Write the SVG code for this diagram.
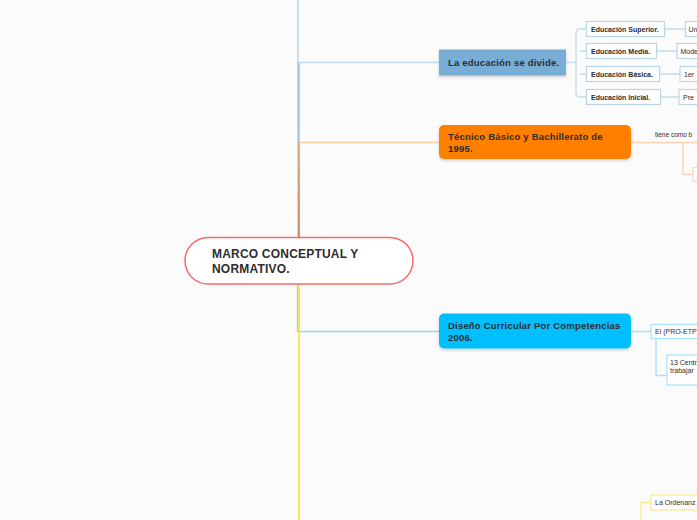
<svg xmlns="http://www.w3.org/2000/svg" width="697" height="520" viewBox="0 0 697 520">
<defs>
<linearGradient id="gOrange" gradientUnits="userSpaceOnUse" x1="0" y1="237" x2="0" y2="142">
<stop offset="0" stop-color="#ea6a2a"/>
<stop offset="1" stop-color="#f6a45c"/>
</linearGradient>
<filter id="sh" x="-10%" y="-20%" width="120%" height="160%">
<feDropShadow dx="0" dy="1.5" stdDeviation="1.5" flood-color="#000" flood-opacity="0.18"/>
</filter>
<style>
text{font-family:"Liberation Sans",Arial,sans-serif;fill:#2e2e2e}
.main{font-size:9.5px;font-weight:bold;letter-spacing:0.2px}
.sub{font-size:7px;font-weight:bold}
.leaf{font-size:7px}
.lbl{font-size:6.5px}
.bl{fill:#fff;stroke:#b9d5ec;stroke-width:1.2}
.ol{fill:#fff;stroke:#fcd3ad;stroke-width:1.2}
.cy{fill:#fff;stroke:#a8e0f5;stroke-width:1.2}
.ye{fill:#fff;stroke:#f7ea8a;stroke-width:1.2}
.c{fill:none;stroke-width:1.3}
</style>
</defs>
<rect width="697" height="520" fill="#fbfbfb"/>
<g id="connectors">
<path class="c" d="M298 237 V0" stroke="#a9cdea"/>
<path class="c" d="M299 237 V62.5" stroke="#8ab8de"/>
<path class="c" d="M299 62.5 H439" stroke="#c2dbef"/>
<path class="c" d="M299 237 V142.5" stroke="url(#gOrange)" stroke-width="2"/>
<path class="c" d="M300 142.5 H439" stroke="#fbcfa6"/>
<path class="c" d="M297.5 284 V331.5 H439" stroke="#94d7f2"/>
<path class="c" d="M299 284 V520" stroke="#f8dc00" stroke-width="2.2"/>
<path class="c" d="M566 62.5 H576 M580 29 H586 M580 51 H586 M580 74 H586 M580 97 H586 M576 33 Q576 29 580 29 M576 93 Q576 97 580 97 M576 33 V93" stroke="#c2dbef"/>
<path class="c" d="M665 29 H685 M657 51 H677 M660 74 H680 M661 97 H679" stroke="#c2dbef"/>
<path class="c" d="M631 142.5 H697 M683 142.5 V174.5 H693" stroke="#fcd3ad"/>
<path class="c" d="M631 331.5 H651 M656 338.5 V375.5 H667" stroke="#a8e0f5"/>
<path class="c" d="M641 520 V502.5 H651" stroke="#f7ea8a"/>
</g>
<g id="root">
<rect x="185" y="237.5" width="228" height="46.5" rx="23.25" fill="#fff" stroke="#f26d6a" stroke-width="1.5"/>
<text x="212" y="258" font-size="12" font-weight="bold" letter-spacing="0.2">MARCO CONCEPTUAL Y</text>
<text x="212" y="273" font-size="12" font-weight="bold" letter-spacing="0.2">NORMATIVO.</text>
</g>
<g id="educacion">
<rect x="439" y="49.5" width="127" height="26" fill="#78add6" filter="url(#sh)"/>
<text class="main" x="448" y="66">La educación se divide.</text>
</g>
<g id="superior">
<rect class="bl" x="586.5" y="21.5" width="78" height="15"/>
<text class="sub" x="591" y="32">Educación Superior.</text>
</g>
<g id="superior-1">
<rect class="bl" x="685.5" y="21.5" width="30" height="15"/>
<text class="leaf" x="688.5" y="32">Un</text>
</g>
<g id="media">
<rect class="bl" x="586.5" y="43.5" width="70" height="15"/>
<text class="sub" x="591" y="54">Educación Media.</text>
</g>
<g id="media-1">
<rect class="bl" x="677" y="43.5" width="40" height="15"/>
<text class="leaf" x="680.5" y="54">Mode</text>
</g>
<g id="basica">
<rect class="bl" x="586.5" y="66.5" width="73" height="15"/>
<text class="sub" x="591" y="77">Educación Básica.</text>
</g>
<g id="basica-1">
<rect class="bl" x="680" y="66.5" width="40" height="15"/>
<text class="leaf" x="684" y="77">1er</text>
</g>
<g id="inicial">
<rect class="bl" x="586.5" y="89.5" width="74" height="15"/>
<text class="sub" x="591" y="100">Educación Inicial.</text>
</g>
<g id="inicial-1">
<rect class="bl" x="679" y="89.5" width="40" height="15"/>
<text class="leaf" x="683" y="100">Pre</text>
</g>
<g id="tecnico">
<rect x="439" y="125" width="192" height="34" rx="5" fill="#ff8000" filter="url(#sh)"/>
<text class="main" x="448" y="140">Técnico Básico y Bachillerato de</text>
<text class="main" x="448" y="152">1995.</text>
</g>
<g id="tiene-label">
<text class="lbl" x="655" y="137">tiene como b</text>
</g>
<g id="tecnico-1">
<rect class="ol" x="693" y="167.5" width="20" height="14"/>
</g>
<g id="diseno">
<rect x="439" y="313.5" width="192" height="35" rx="5" fill="#00bfff" filter="url(#sh)"/>
<text class="main" x="448" y="328.5">Diseño Curricular Por Competencias</text>
<text class="main" x="448" y="341">2006.</text>
</g>
<g id="proetp">
<rect class="cy" x="651" y="324.5" width="60" height="14"/>
<text class="leaf" x="655" y="334">El (PRO-ETP</text>
</g>
<g id="centros">
<rect class="cy" x="667" y="355" width="40" height="30"/>
<text class="leaf" x="670" y="364.5">13 Centr</text>
<text class="leaf" x="670" y="373">trabajar</text>
</g>
<g id="ordenanza">
<rect class="ye" x="651" y="495" width="60" height="15"/>
<text class="leaf" x="655" y="505">La Ordenanz</text>
</g>
</svg>
